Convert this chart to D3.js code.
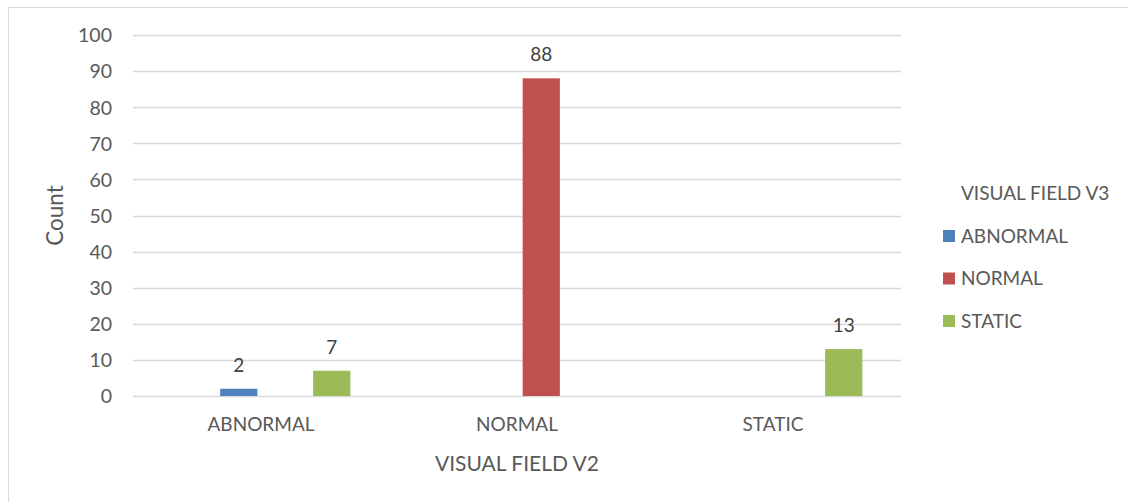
<!DOCTYPE html>
<html>
<head>
<meta charset="utf-8">
<script src="https://cdn.jsdelivr.net/npm/d3@7"></script>
<style>
  html, body { margin: 0; padding: 0; background: #fff; }
  svg { display: block; font-family: Lato, "Open Sans", sans-serif; }
</style>
</head>
<body>
<svg id="chart" width="1128" height="502"></svg>
<script>
// Visual field at V2 (categories) broken down by visual field at V3 (series)
const categories = ["ABNORMAL", "NORMAL", "STATIC"];
const seriesNames = ["ABNORMAL", "NORMAL", "STATIC"];
// counts per series, one value per category (null = no records)
const abnormalCounts = [2, null, null];
const normalCounts = [null, 88, null];
const staticCounts = [7, null, 13];
const yTicks = [0, 10, 20, 30, 40, 50, 60, 70, 80, 90, 100];
const seriesColors = ["#4f81bd", "#c0504d", "#9bbb59"];

const seriesValues = [abnormalCounts, normalCounts, staticCounts];
// the pivot source had an empty "(blank)" series occupying the first slot
const slots = ["(blank)", ...seriesNames];

const svg = d3.select("#chart");

// chart frame
svg.append("rect")
  .attr("x", 8.5).attr("y", 7.5)
  .attr("width", 1200).attr("height", 600)
  .attr("fill", "none").attr("stroke", "#d9d9d9").attr("stroke-width", 1);

const plot = { left: 133, right: 901, top: 35, bottom: 396 };

const x0 = d3.scaleBand().domain(categories).range([plot.left, plot.right]);
const x1 = d3.scaleBand().domain(slots).range([-92, 94]).paddingInner(0.2).paddingOuter(0.1);
const y = d3.scaleLinear().domain([0, 100]).range([plot.bottom, plot.top]);

// horizontal gridlines
svg.append("g")
  .selectAll("line")
  .data(yTicks)
  .join("line")
  .attr("x1", plot.left).attr("x2", plot.right)
  .attr("y1", d => Math.round(y(d)) + 0.5).attr("y2", d => Math.round(y(d)) + 0.5)
  .attr("stroke", "#d9d9d9").attr("stroke-width", 1.3);

// y axis tick labels
const yAxis = d3.axisLeft(y).tickValues(yTicks).tickSize(0).tickPadding(0);
const gy = svg.append("g").attr("transform", `translate(${plot.left - 21},0)`).call(yAxis);
gy.select(".domain").remove();
gy.selectAll("text")
  .attr("fill", "#595959").attr("font-size", 19.5).attr("font-family", "Lato, sans-serif")
  .attr("dy", "0.35em");

// x axis category labels
const xAxis = d3.axisBottom(x0).tickSize(0).tickPadding(0);
const gx = svg.append("g").attr("transform", `translate(0,${plot.bottom + 28})`).call(xAxis);
gx.select(".domain").remove();
gx.selectAll("text")
  .attr("fill", "#595959").attr("font-size", 19).attr("font-family", "Lato, sans-serif")
  .attr("dy", "0.35em");

// bars
const barData = [];
categories.forEach((c, ci) => {
  seriesNames.forEach((s, si) => {
    const v = seriesValues[si][ci];
    if (v !== null) barData.push({ category: c, series: s, value: v, color: seriesColors[si] });
  });
});

const cx = c => x0(c) + x0.bandwidth() / 2;

svg.append("g")
  .selectAll("rect")
  .data(barData)
  .join("rect")
  .attr("x", d => cx(d.category) + x1(d.series))
  .attr("width", x1.bandwidth())
  .attr("y", d => y(d.value))
  .attr("height", d => y(0) - y(d.value))
  .attr("fill", d => d.color);

// value labels
svg.append("g")
  .selectAll("text")
  .data(barData)
  .join("text")
  .attr("x", d => cx(d.category) + x1(d.series) + x1.bandwidth() / 2)
  .attr("y", d => y(d.value) - 17)
  .attr("text-anchor", "middle")
  .attr("fill", "#404040").attr("font-size", 19)
  .text(d => d.value);

// axis titles
svg.append("text")
  .attr("x", (plot.left + plot.right) / 2).attr("y", 471)
  .attr("text-anchor", "middle")
  .attr("fill", "#595959").attr("font-size", 21)
  .text("VISUAL FIELD V2");

svg.append("text")
  .attr("transform", `translate(63,${(plot.top + plot.bottom) / 2}) rotate(-90)`)
  .attr("text-anchor", "middle")
  .attr("fill", "#595959").attr("font-size", 22.5)
  .text("Count");

// legend
const legend = svg.append("g");
legend.append("text")
  .attr("x", 961).attr("y", 200)
  .attr("fill", "#595959").attr("font-size", 19)
  .text("VISUAL FIELD V3");

const item = legend.selectAll("g.item")
  .data(seriesNames)
  .join("g")
  .attr("class", "item")
  .attr("transform", (d, i) => `translate(943,${236 + i * 42.5})`);
item.append("rect")
  .attr("x", 0).attr("y", -6).attr("width", 12).attr("height", 12)
  .attr("fill", (d, i) => seriesColors[i]);
item.append("text")
  .attr("x", 18).attr("y", 0).attr("dy", "0.35em")
  .attr("fill", "#595959").attr("font-size", 19)
  .text(d => d);
</script>
</body>
</html>
